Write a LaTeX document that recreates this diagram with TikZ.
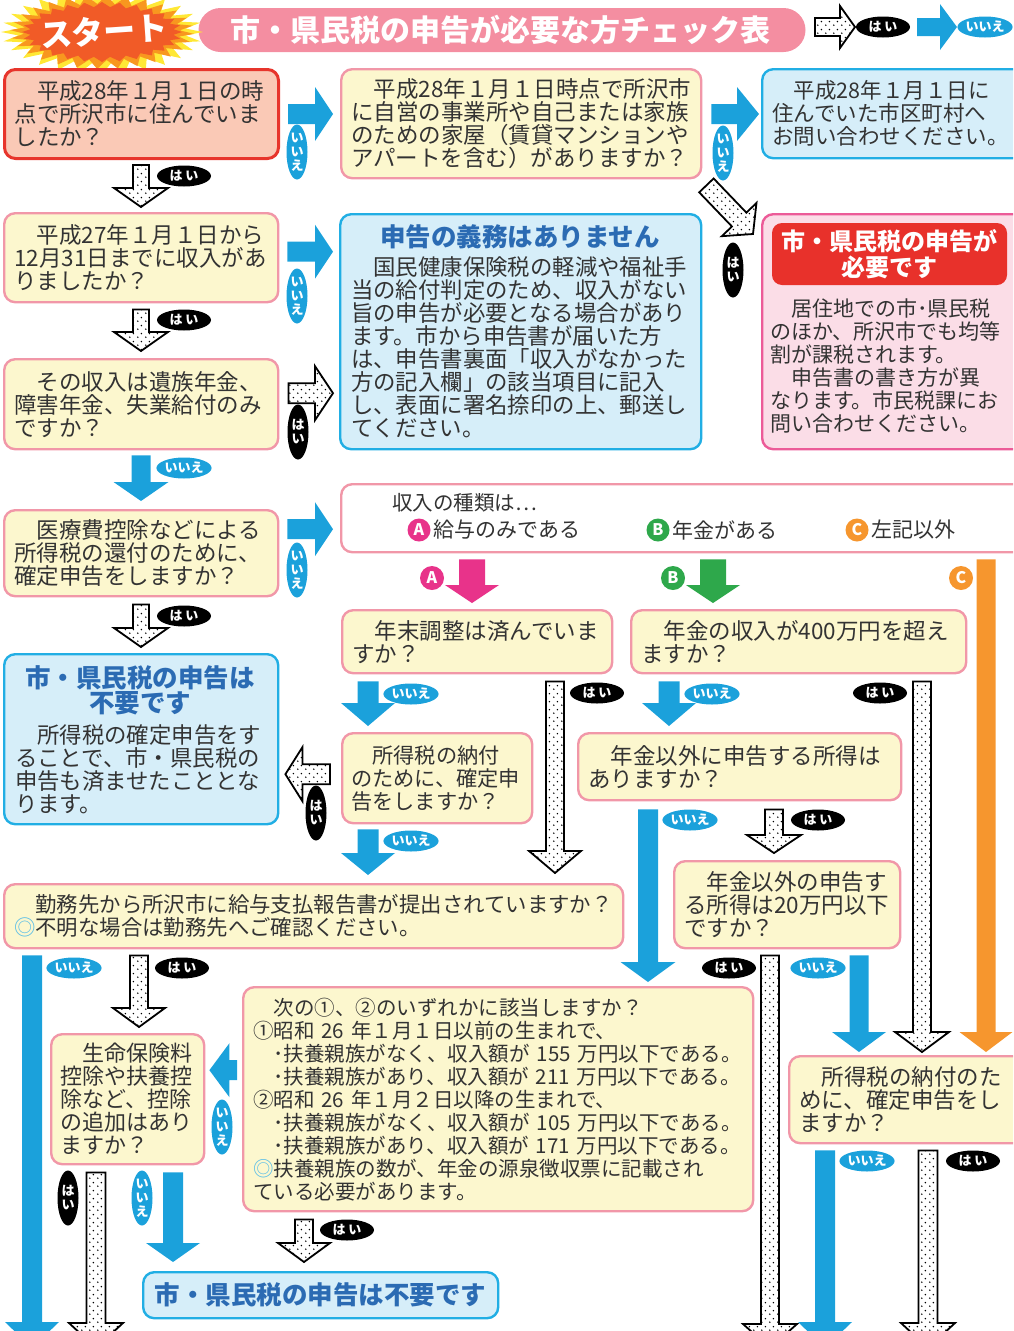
\documentclass[tikz,border=0pt]{standalone}
\usepackage{fontspec}
\setmainfont{Noto Sans CJK JP}
\usetikzlibrary{calc,shapes.geometric,patterns.meta}
\definecolor{abl}{HTML}{1BA1DB}
\definecolor{cream}{HTML}{FCF7CE}
\definecolor{bpink}{HTML}{F197A8}
\definecolor{salmon}{HTML}{FAC9B6}
\definecolor{bred}{HTML}{E7352C}
\definecolor{lblue}{HTML}{D6EEF9}
\definecolor{bcyan}{HTML}{21AEE4}
\definecolor{lpink}{HTML}{FBDDE7}
\definecolor{bmag}{HTML}{EC5B98}
\definecolor{tred}{HTML}{E8312B}
\definecolor{tblue}{HTML}{2B6BB3}
\definecolor{pillc}{HTML}{F48EA1}
\definecolor{cmag}{HTML}{E8338A}
\definecolor{cgreen}{HTML}{2EA84B}
\definecolor{corange}{HTML}{F6962E}
\definecolor{staryel}{HTML}{FFE835}
\definecolor{starorg}{HTML}{F8971F}
\definecolor{starred}{HTML}{F15B27}
\definecolor{tgray}{HTML}{333333}
\definecolor{dblue}{HTML}{55BCE8}
\tikzdeclarepattern{
  name=sdots,
  type=uncolored,
  bounding box={(0pt,0pt) and (8pt,8pt)},
  tile size={(8pt,8pt)},
  code={
    \pgfpathcircle{\pgfpoint{2pt}{2pt}}{0.9pt}
    \pgfpathcircle{\pgfpoint{6pt}{6pt}}{0.9pt}
    \pgfusepath{fill}
  }
}
% #1 style, #2 from, #3 to, #4 shaft half width, #5 head half width, #6 head length
\newcommand\blockarrow[6]{%
  \coordinate (bas) at (#2);
  \coordinate (bae) at (#3);
  \coordinate (bah) at ($(bae)!#6pt!(bas)$);
  \path[#1] ($(bas)!#4pt!90:(bae)$) -- ($(bah)!#4pt!90:(bae)$) -- ($(bah)!#5pt!90:(bae)$) -- (bae)
    -- ($(bah)!#5pt!-90:(bae)$) -- ($(bah)!#4pt!-90:(bae)$) -- ($(bas)!#4pt!-90:(bae)$) -- cycle;
}
% star burst: #1 colour, #2 outer rx, #3 inner rx, #4 outer ry, #5 inner ry, #6 angle offset
\newcommand\burst[6]{%
  \fill[#1] ({102+#2*cos(#6)},{32+#4*sin(#6)})
    \foreach \j in {1,...,55}{
      -- ({102+(#2-(#2-#3)*mod(\j,2))*cos(6.428571*\j+#6)},{32+(#4-(#4-#5)*mod(\j,2))*sin(6.428571*\j+#6)})
    } -- cycle;
}
\begin{document}
\begin{tikzpicture}[x=1pt,y=-1pt,
  box/.style={draw=bpink, fill=cream, line width=2.4pt, rounded corners=11pt, inner xsep=10pt, inner ysep=0pt,
    align=left, anchor=north west, text=tgray, font=\fontsize{22.5}{23}\selectfont},
  bluebox/.style={box, draw=bcyan, fill=lblue},
  ttl/.style={text=tblue, inner sep=0pt, align=center, font=\bfseries\fontsize{25.5}{25}\selectfont},
  txt/.style={align=left, inner sep=0pt, text=tgray, font=\fontsize{22.4}{23}\selectfont},
  bluearrow/.style={fill=abl},
  dotarrow/.style={draw=black, line width=1.8pt, fill=white, postaction={pattern=sdots, pattern color=black}},
  lab/.style={ellipse, inner sep=0pt, text=white, font=\bfseries\fontsize{13}{14}\selectfont},
  yes/.style={lab, fill=black, minimum width=54pt, minimum height=21pt},
  no/.style={lab, fill=abl, minimum width=54pt, minimum height=21pt},
  yesv/.style={lab, fill=black, minimum width=21pt, minimum height=55pt, align=center, font=\bfseries\fontsize{13}{14}\selectfont},
  nov/.style={lab, fill=abl, minimum width=21pt, minimum height=55pt, align=center, font=\bfseries\fontsize{13}{14}\selectfont},
  letter/.style={circle, inner sep=0pt, minimum size=24pt, text=white, font=\bfseries\fontsize{16}{16}\selectfont},
]
\useasboundingbox (0,0) rectangle (1013,1331);
\clip (0,0) rectangle (1013,1331);

% ---------- header ----------
\node[fill=pillc, rounded corners=22pt, minimum width=607pt, minimum height=44pt, inner sep=0pt] (title) at (502,30) {};
\node[text=white, font=\bfseries\fontsize{30}{30}\selectfont, inner sep=0pt] (titletext) at (500,30) {市・県民税の申告が必要な方チェック表};
\burst{staryel}{101}{84}{42}{31}{0}
\burst{starorg}{92}{78}{37}{28}{3}
\burst{starred}{80}{72}{30}{25}{0}
\node[text=white, font=\bfseries\fontsize{32}{32}\selectfont, rotate=4] (start) at (104,31) {スタート};

% legend
\coordinate (lg1) at (815,27);
\coordinate (lg2) at (855,27);
\coordinate (lg3) at (917,27);
\coordinate (lg4) at (957,27);
\blockarrow{dotarrow}{lg1}{lg2}{9}{21}{15}
\node[yes] (lgyes) at (883,27) {は い};
\blockarrow{bluearrow}{lg3}{lg4}{9}{23}{17}
\node[no] (lgno) at (985,27) {いいえ};

% ---------- boxes ----------
\node[box, draw=bred, fill=salmon, line width=3pt, minimum width=274pt, text width=254pt, minimum height=89pt] (b1) at (3,68)
  {　平成28年１月１日の時\\点で所沢市に住んでいま\\したか？};
\node[box, minimum width=360pt, text width=340pt, minimum height=109pt] (b2) at (340,68)
  {　平成28年１月１日時点で所沢市\\に自営の事業所や自己または家族\\のための家屋（賃貸マンションや\\アパートを含む）がありますか？};
\node[bluebox, minimum width=264pt, text width=244pt, minimum height=89pt, font=\fontsize{21.5}{23}\selectfont] (b3) at (761,68)
  {　平成28年１月１日に\\住んでいた市区町村へ\\お問い合わせください。};
\node[box, minimum width=274pt, text width=254pt, minimum height=89pt] (b4) at (3,212)
  {　平成27年１月１日から\\12月31日までに収入があ\\りましたか？};
\node[bluebox, minimum width=361pt, minimum height=235pt] (b5) at (339,213) {};
\node[ttl] (b5t) at (520,237) {申告の義務はありません};
\node[txt, text width=340pt] (b5b) at (521,347.5)
  {　国民健康保険税の軽減や福祉手\\当の給付判定のため、収入がない\\旨の申告が必要となる場合があり\\ます。市から申告書が届いた方\\は、申告書裏面「収入がなかった\\方の記入欄」の該当項目に記入\\し、表面に署名捺印の上、郵送し\\てください。};
\node[box, draw=bmag, fill=lpink, minimum width=264pt, minimum height=235pt] (b6) at (761,213) {};
\node[fill=tred, rounded corners=10pt, minimum width=235pt, minimum height=62pt, inner sep=0pt, align=center,
  text=white, font=\bfseries\fontsize{24}{26}\selectfont] (b6t) at (889.5,254) {市・県民税の申告が\\必要です};
\node[txt, text width=236pt, font=\fontsize{21}{23}\selectfont] (b6b) at (888,365.5)
  {　居住地での市･県民税\\のほか、所沢市でも均等\\割が課税されます。\\　申告書の書き方が異\\なります。市民税課にお\\問い合わせください。};
\node[box, minimum width=274pt, text width=254pt, minimum height=90pt] (b7) at (3,358)
  {　その収入は遺族年金、\\障害年金、失業給付のみ\\ですか？};
\node[box, minimum width=274pt, text width=254pt, minimum height=86pt] (b8) at (3,509)
  {　医療費控除などによる\\所得税の還付のために、\\確定申告をしますか？};
\node[box, fill=white, minimum width=685pt, minimum height=68pt] (b9) at (340,483) {};
\node[txt, anchor=west, font=\fontsize{20.5}{23}\selectfont] (b9t) at (392,503) {収入の種類は…};
\node[letter, fill=cmag, minimum size=23pt] (b9ca) at (419,530) {A};
\node[txt, anchor=west, font=\fontsize{21}{23}\selectfont] (b9a) at (433,530) {給与のみである};
\node[letter, fill=cgreen, minimum size=23pt] (b9cb) at (658,530) {B};
\node[txt, anchor=west, font=\fontsize{21}{23}\selectfont] (b9b) at (672,530) {年金がある};
\node[letter, fill=corange, minimum size=23pt] (b9cc) at (857,530) {C};
\node[txt, anchor=west, font=\fontsize{21}{23}\selectfont] (b9c) at (871,530) {左記以外};

\node[bluebox, minimum width=274pt, minimum height=170pt] (b10) at (3,653) {};
\node[ttl] (b10t) at (140,690.5) {市・県民税の申告は\\不要です};
\node[txt, text width=250pt] (b10b) at (140,769.5)
  {　所得税の確定申告をす\\ることで、市・県民税の\\申告も済ませたこととな\\ります。};

\node[box, minimum width=270pt, text width=250pt, minimum height=63pt] (bA) at (341,609)
  {　年末調整は済んでいま\\すか？};
\node[box, minimum width=335pt, text width=315pt, minimum height=63pt] (bB) at (630,609)
  {　年金の収入が400万円を超え\\ますか？};
\node[box, inner xsep=9pt, minimum width=190pt, text width=172pt, minimum height=90pt, font=\fontsize{21.2}{23}\selectfont] (bA2) at (341,732)
  {　所得税の納付\\のために、確定申\\告をしますか？};
\node[box, minimum width=323pt, text width=303pt, minimum height=67pt] (bB2) at (577,732)
  {　年金以外に申告する所得は\\ありますか？};
\node[box, minimum width=226pt, text width=206pt, minimum height=87pt] (bB3) at (673,860)
  {　年金以外の申告す\\る所得は20万円以下\\ですか？};
\node[box, minimum width=619pt, text width=599pt, minimum height=64pt, font=\fontsize{21.4}{23}\selectfont] (bW) at (3,883)
  {　勤務先から所沢市に給与支払報告書が提出されていますか？\\{\color{dblue}◎}不明な場合は勤務先へご確認ください。};
\node[box, minimum width=510pt, text width=490pt, minimum height=224pt, font=\fontsize{20.5}{23}\selectfont] (bN) at (242,986)
  {　次の①、②のいずれかに該当しますか？\\①昭和~26~年１月１日以前の生まれで、\\　･扶養親族がなく、収入額が~155~万円以下である。\\　･扶養親族があり、収入額が~211~万円以下である。\\②昭和~26~年１月２日以降の生まれで、\\　･扶養親族がなく、収入額が~105~万円以下である。\\　･扶養親族があり、収入額が~171~万円以下である。\\{\color{dblue}◎}扶養親族の数が、年金の源泉徴収票に記載され\\ている必要があります。};
\node[box, inner xsep=9pt, minimum width=153pt, text width=135pt, minimum height=130pt, font=\fontsize{22}{23}\selectfont] (bL) at (50,1033)
  {　生命保険料\\控除や扶養控\\除など、控除\\の追加はあり\\ますか？};
\node[bluebox, minimum width=355pt, text width=335pt, minimum height=46pt, align=center, text=tblue,
  font=\bfseries\fontsize{25.5}{25}\selectfont] (bF) at (142,1271) {市・県民税の申告は不要です};
\node[box, minimum width=237pt, text width=217pt, minimum height=87pt] (bT) at (788,1055)
  {　所得税の納付のた\\めに、確定申告をし\\ますか？};

% ---------- arrows ----------
\blockarrow{bluearrow}{$(b1.east)+(8,0)$}{$(b2.west |- b1.east)+(-7,0)$}{10}{27}{18}
\node[nov] (l1) at (297,152) {い\\い\\え};
\blockarrow{bluearrow}{$(b2.east |- b1.east)+(9,0)$}{$(b3.west |- b1.east)+(-2,0)$}{10}{27}{22}
\node[nov] (l2) at (723,153) {い\\い\\え};
\blockarrow{dotarrow}{$(b2.south east)+(4,6)$}{$(b6.north west)+(-8,21)$}{10}{24}{20}
\node[yesv] (l3) at (733,270) {は\\い};

\blockarrow{dotarrow}{$(b1.south -| 141,0)+(0,5)$}{$(b4.north -| 141,0)+(0,-5)$}{8}{27}{19}
\node[yes] (l4) at (184,176) {は い};
\blockarrow{bluearrow}{$(b4.east)+(8,-6)$}{$(b5.west |- b4.east)+(-6,-6)$}{10}{27}{18}
\node[nov] (l5) at (297,296) {い\\い\\え};
\blockarrow{dotarrow}{$(b4.south -| 141,0)+(0,6)$}{$(b7.north -| 141,0)+(0,-7)$}{8}{27}{19}
\node[yes] (l6) at (184,320) {は い};
\blockarrow{dotarrow}{$(b7.east)+(9,-11)$}{$(b5.west |- b7.east)+(-6,-11)$}{10}{27}{18}
\node[yesv] (l7) at (298,432) {は\\い};
\blockarrow{bluearrow}{$(b7.south -| 141,0)+(0,5)$}{$(b8.north -| 141,0)+(0,-8)$}{9.5}{27.5}{19}
\node[no] (l8) at (184,468) {いいえ};
\blockarrow{bluearrow}{$(b8.east)+(8,-24)$}{$(b9.west |- b8.east)+(-7,-24)$}{10}{27}{18}
\node[nov] (l9) at (297,570) {い\\い\\え};
\blockarrow{dotarrow}{$(b8.south -| 141,0)+(0,7)$}{$(b10.north -| 141,0)+(0,-6)$}{8}{27}{19}
\node[yes] (l10) at (184,616) {は い};

\blockarrow{fill=cmag}{$(b9.south -| 472,0)+(0,6)$}{$(bA.north -| 472,0)+(0,-6)$}{13}{27}{18}
\node[letter, fill=cmag] (la) at (432,578) {A};
\blockarrow{fill=cgreen}{$(b9.south -| 713,0)+(0,6)$}{$(bB.north -| 713,0)+(0,-6)$}{13}{27}{18}
\node[letter, fill=cgreen] (lb) at (673,578) {B};
\blockarrow{fill=corange}{$(b9.south -| 986,0)+(0,6)$}{$(bT.north -| 986,0)+(0,-3)$}{9.5}{26.5}{20}
\node[letter, fill=corange] (lc) at (961,578) {C};

\blockarrow{bluearrow}{$(bA.south -| 368,0)+(0,7)$}{$(bA2.north -| 368,0)+(0,-6)$}{10.5}{27}{23}
\node[no] (l11) at (411,694) {いいえ};
\blockarrow{dotarrow}{$(bA.south -| 555,0)+(0,7)$}{$(bW.north -| 555,0)+(0,-10)$}{9}{26}{22}
\node[yes] (l12) at (597,693) {は い};
\blockarrow{dotarrow}{$(bA2.west)+(-11,-4)$}{$(b10.east |- bA2.west)+(6,-4)$}{10}{27}{17}
\node[yesv] (l13) at (316,813) {は\\い};
\blockarrow{bluearrow}{$(bA2.south -| 368,0)+(0,5)$}{$(bW.north -| 368,0)+(0,-8)$}{10.5}{27}{22}
\node[no] (l14) at (411,841) {いいえ};

\blockarrow{bluearrow}{$(bB.south -| 669,0)+(0,7)$}{$(bB2.north -| 669,0)+(0,-6)$}{10.5}{27}{23}
\node[no] (l15) at (712,694) {いいえ};
\blockarrow{dotarrow}{$(bB.south -| 922,0)+(0,7)$}{$(bT.north -| 922,0)+(0,-3)$}{9}{27}{20}
\node[yes] (l16) at (880,693) {は い};
\blockarrow{bluearrow}{$(bB2.south -| 648,0)+(0,8)$}{$(bN.north -| 648,0)+(0,-4)$}{10}{27.5}{20}
\node[no] (l17) at (690,820) {いいえ};
\blockarrow{dotarrow}{$(bB2.south -| 774,0)+(0,8)$}{$(bB3.north -| 774,0)+(0,-7)$}{9}{27}{18}
\node[yes] (l18) at (818,820) {は い};

\coordinate (off1) at (770,1348);
\blockarrow{dotarrow}{$(bB3.south -| 770,0)+(0,6)$}{off1}{9}{27}{24}
\node[yes] (l19) at (729,968) {は い};
\blockarrow{bluearrow}{$(bB3.south -| 859,0)+(0,6)$}{$(bT.north -| 859,0)+(0,-3)$}{9.5}{27}{20}
\node[no] (l20) at (818,968) {いいえ};

\coordinate (off2) at (32,1348);
\blockarrow{bluearrow}{$(bW.south -| 32,0)+(0,6)$}{off2}{10}{27}{26}
\node[no] (l21) at (74,968) {いいえ};
\blockarrow{dotarrow}{$(bW.south -| 139,0)+(0,6)$}{$(bL.north -| 139,0)+(0,-6)$}{9}{26}{19}
\node[yes] (l22) at (182,968) {は い};
\blockarrow{bluearrow}{$(bN.west |- bL.east)+(-5,-29)$}{$(bL.east)+(4,-29)$}{10}{27}{20}
\node[nov] (l23) at (222,1127) {い\\い\\え};
\coordinate (off3) at (96,1348);
\blockarrow{dotarrow}{$(bL.south -| 96,0)+(0,7)$}{off3}{9.5}{27}{25}
\node[yesv] (l24) at (68,1198) {は\\い};
\blockarrow{bluearrow}{$(bL.south -| 173,0)+(0,7)$}{$(bF.north -| 173,0)+(0,-9)$}{10}{27}{19}
\node[nov] (l25) at (142,1198) {い\\い\\え};
\blockarrow{dotarrow}{$(bN.south -| 304,0)+(0,7)$}{$(bF.north -| 304,0)+(0,-9)$}{9}{26}{19}
\node[yes] (l26) at (347,1230) {は い};

\coordinate (off4) at (825,1348);
\blockarrow{bluearrow}{$(bT.south -| 825,0)+(0,6)$}{off4}{10}{27}{26}
\node[no] (l27) at (867,1161) {いいえ};
\coordinate (off5) at (928,1348);
\blockarrow{dotarrow}{$(bT.south -| 928,0)+(0,6)$}{off5}{9.5}{27}{25}
\node[yes] (l28) at (973,1161) {は い};
\end{tikzpicture}
\end{document}
